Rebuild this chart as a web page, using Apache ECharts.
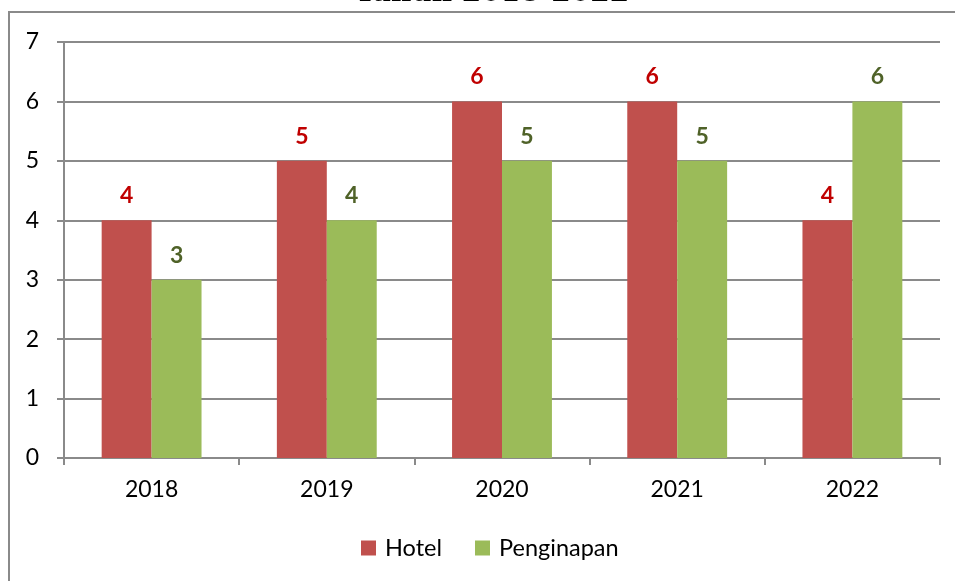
<!DOCTYPE html>
<html lang="id">
<head>
    <meta charset="UTF-8">
    <title>Hotel dan Penginapan</title>
    <script src="https://cdn.jsdelivr.net/npm/echarts@6/dist/echarts.min.js"></script>
    <style>
        html, body { margin: 0; padding: 0; background: #fff; }
    </style>
</head>
<body>
<div id="main" style="width:955px;height:581px;"></div>
<script type="text/javascript">
    // data
    var years = ['2018', '2019', '2020', '2021', '2022'];
    var hotel = [4, 5, 6, 6, 4];
    var penginapan = [3, 4, 5, 5, 6];

    var myChart = echarts.init(document.getElementById('main'));
    var font = 'Lato, "Noto Sans", sans-serif';

    var option = {
        animation: false,
        backgroundColor: '#fff',
        textStyle: {fontFamily: font},
        graphic: [
            {
                type: 'rect',
                shape: {x: 9, y: 12, width: 1200, height: 1000},
                style: {fill: 'none', stroke: '#8a8a8a', lineWidth: 2},
                silent: true
            },
            {
                // title is cut off by the top of the picture
                type: 'text',
                x: 492, y: 8,
                style: {
                    text: 'Tahun 2018-2022',
                    font: 'bold 28px "DejaVu Serif", serif',
                    fill: '#000',
                    align: 'center',
                    verticalAlign: 'bottom'
                },
                silent: true
            }
        ],
        legend: {
            bottom: 16,
            left: 356,
            itemWidth: 15,
            itemHeight: 15,
            itemGap: 33,
            icon: 'rect',
            textStyle: {fontSize: 23.5, color: '#000', fontFamily: font, padding: [0, 0, 0, 4]},
            data: ['Hotel', 'Penginapan']
        },
        grid: {left: 64, right: 15, top: 42, bottom: 123},
        xAxis: {
            type: 'category',
            data: years,
            axisLine: {lineStyle: {color: '#8a8a8a', width: 2}},
            axisTick: {show: true, length: 7, lineStyle: {color: '#8a8a8a', width: 2}},
            axisLabel: {fontSize: 23, color: '#000', margin: 20, fontFamily: font}
        },
        yAxis: {
            type: 'value',
            min: 0,
            max: 7,
            interval: 1,
            axisLine: {show: true, lineStyle: {color: '#8a8a8a', width: 2}},
            axisTick: {show: true, length: 7, lineStyle: {color: '#8a8a8a', width: 2}},
            axisLabel: {fontSize: 23, color: '#000', margin: 25, fontFamily: font},
            splitLine: {lineStyle: {color: '#8a8a8a', width: 2}}
        },
        series: [
            {
                name: 'Hotel',
                type: 'bar',
                data: hotel,
                barGap: '0%',
                barCategoryGap: '43%',
                itemStyle: {color: '#C0504D'},
                label: {
                    show: true, position: 'top', distance: 13,
                    fontSize: 23, fontWeight: 'bold', color: '#C00000', fontFamily: font
                }
            },
            {
                name: 'Penginapan',
                type: 'bar',
                data: penginapan,
                itemStyle: {color: '#9BBB59'},
                label: {
                    show: true, position: 'top', distance: 13,
                    fontSize: 23, fontWeight: 'bold', color: '#4F6228', fontFamily: font
                }
            }
        ]
    };
    myChart.setOption(option);
</script>
</body>
</html>
